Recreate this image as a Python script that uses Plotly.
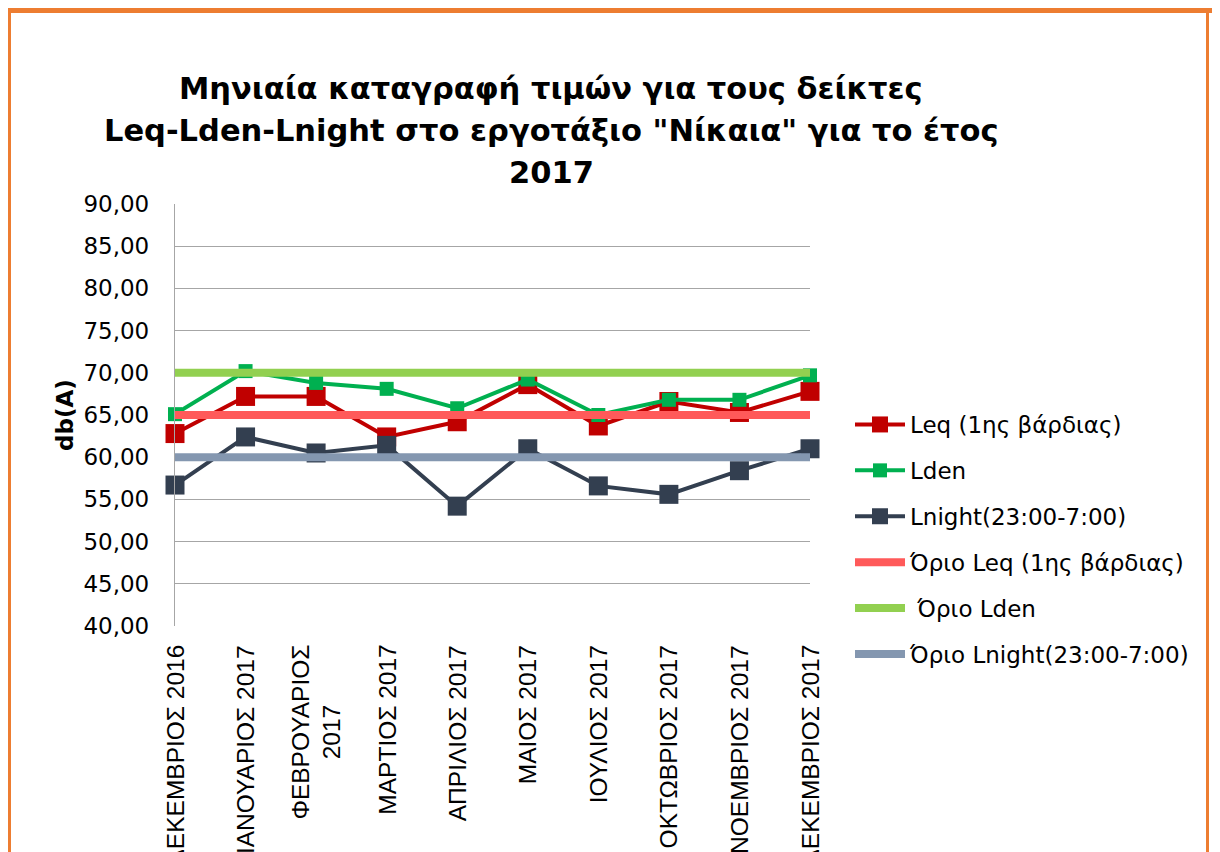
import plotly.graph_objects as go

months = ["ΔΕΚΕΜΒΡΙΟΣ 2016", "ΙΑΝΟΥΑΡΙΟΣ 2017", "ΦΕΒΡΟΥΑΡΙΟΣ<br>2017", "ΜΑΡΤΙΟΣ 2017",
          "ΑΠΡΙΛΙΟΣ 2017", "ΜΑΙΟΣ 2017", "ΙΟΥΛΙΟΣ 2017", "ΟΚΤΩΒΡΙΟΣ 2017",
          "ΝΟΕΜΒΡΙΟΣ 2017", "ΔΕΚΕΜΒΡΙΟΣ 2017"]
leq = [62.8, 67.2, 67.2, 62.4, 64.2, 68.6, 63.7, 66.6, 65.3, 67.8]
lden = [65.1, 70.2, 68.8, 68.1, 65.8, 69.2, 65.0, 66.8, 66.8, 69.7]
lnight = [56.7, 62.4, 60.5, 61.4, 54.2, 61.0, 56.6, 55.6, 58.4, 61.0]
limit_leq = [65.0] * 10
limit_lden = [70.0] * 10
limit_lnight = [60.0] * 10

title_lines = ["Μηνιαία καταγραφή τιμών για τους δείκτες",
               "Leq-Lden-Lnight στο εργοτάξιο \"Νίκαια\" για το έτος",
               "2017"]
y_title = "db(A)"

# page body has an 8px margin; targets below are in screen pixels
OFF = 8
L, R, T, B = 175, 810, 204, 626
W, H = 1220 - OFF, 852 - OFF
def px(x): return (x - L) / (R - L)
def py(y): return (B - y) / (B - T)

fig = go.Figure()
series = [
    ("Leq (1ης βάρδιας)", leq, "#C00000", 19),
    ("Lden", lden, "#00B050", 14),
    ("Lnight(23:00-7:00)", lnight, "#333F50", 19),
]
for i, (name, vals, col, ms) in enumerate(series):
    fig.add_trace(go.Scatter(
        x=months, y=vals, name=name, mode="lines+markers",
        line=dict(color=col, width=4),
        marker=dict(symbol="square", size=ms, color=col),
        cliponaxis=False, legendgroup=f"g{i}"))
limits = [
    ("Όριο Leq (1ης βάρδιας)", limit_leq, "#FF5A5A"),
    (" Όριο Lden", limit_lden, "#92D050"),
    ("Όριο Lnight(23:00-7:00)", limit_lnight, "#8497B0"),
]
for i, (name, vals, col) in enumerate(limits):
    fig.add_trace(go.Scatter(
        x=months, y=vals, name=name, mode="lines",
        line=dict(color=col, width=8),
        cliponaxis=False, legendgroup=f"h{i}"))

annotations = []
title_y = [88, 130, 172]
for txt, yy in zip(title_lines, title_y):
    annotations.append(dict(
        text="<b>" + txt + "</b>", xref="paper", yref="paper",
        x=px(551), y=py(yy), xanchor="center", yanchor="middle",
        showarrow=False, font=dict(family="DejaVu Sans", size=30.5, color="#000000")))
annotations.append(dict(
    text="<b>" + y_title + "</b>", xref="paper", yref="paper",
    x=px(65), y=py(415), xanchor="center", yanchor="middle", textangle=-90,
    showarrow=False, font=dict(family="DejaVu Sans", size=23, color="#000000")))
for m in months:
    annotations.append(dict(
        text=m, xref="x", yref="paper", x=m, y=py(643),
        xanchor="center", yanchor="top", textangle=-90, align="center",
        showarrow=False, font=dict(family="Liberation Sans", size=24.5, color="#000000")))

shapes = []
orange = "#ED7D31"
shapes.append(dict(type="rect", xref="paper", yref="paper", x0=px(OFF), x1=px(1219),
                   y0=py(13), y1=py(7.5), fillcolor=orange, line_width=0, layer="below"))
shapes.append(dict(type="rect", xref="paper", yref="paper", x0=px(OFF), x1=px(OFF + 3),
                   y0=py(900), y1=py(7.5), fillcolor=orange, line_width=0, layer="below"))
shapes.append(dict(type="rect", xref="paper", yref="paper", x0=px(1206), x1=px(1209),
                   y0=py(900), y1=py(7.5), fillcolor=orange, line_width=0, layer="below"))

fig.update_layout(
    width=W, height=H,
    margin=dict(l=L - OFF, r=W - (R - OFF), t=T - OFF, b=H - (B - OFF), autoexpand=False),
    paper_bgcolor="white", plot_bgcolor="white",
    separators=",.",
    showlegend=True,
    legend=dict(x=px(850), y=py(403), xanchor="left", yanchor="top",
                font=dict(family="DejaVu Sans", size=23, color="#000000"),
                tracegroupgap=13, itemwidth=50, bgcolor="rgba(0,0,0,0)"),
    annotations=annotations, shapes=shapes,
    xaxis=dict(type="category", range=[0, 9], showticklabels=False, showgrid=False,
               showline=False, zeroline=False, ticks=""),
    yaxis=dict(range=[40, 90], dtick=5, tickformat=".2f", showgrid=True,
               gridcolor="#A6A6A6", gridwidth=1.3, showline=True, linecolor="#A6A6A6",
               linewidth=1.3, zeroline=False, ticks="", ticklabelstandoff=20,
               tickfont=dict(family="DejaVu Sans", size=23, color="#000000")),
)

fig.write_html("out.html")
